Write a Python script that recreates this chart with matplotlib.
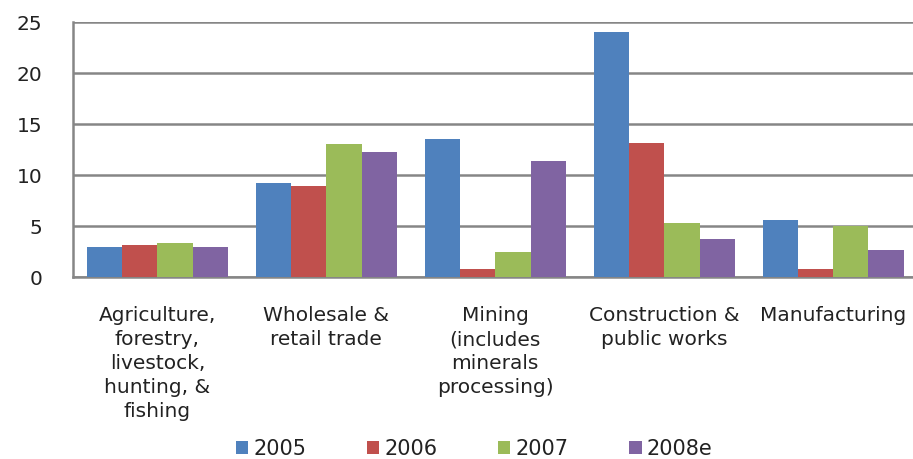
import matplotlib.pyplot as plt
import numpy as np

# data
categories = [
    "Agriculture,\nforestry,\nlivestock,\nhunting, &\nfishing",
    "Wholesale &\nretail trade",
    "Mining\n(includes\nminerals\nprocessing)",
    "Construction &\npublic works",
    "Manufacturing",
]
years = ["2005", "2006", "2007", "2008e"]
v2005 = [2.9, 9.2, 13.6, 24.1, 5.6]
v2006 = [3.15, 8.9, 0.8, 13.2, 0.8]
v2007 = [3.3, 13.1, 2.45, 5.35, 5.05]
v2008e = [2.95, 12.3, 11.4, 3.75, 2.7]
colors = ["#4F81BD", "#C0504D", "#9BBB59", "#8064A2"]

plt.rcParams["font.family"] = ["DejaVu Sans"]

fig = plt.figure(figsize=(9.13, 4.59), dpi=100)
ax = fig.add_axes([0.08, 0.3965, 0.925, 0.5545])

x = np.arange(len(categories))
width = 0.209
series = [v2005, v2006, v2007, v2008e]
for i, vals in enumerate(series):
    ax.bar(x + (i - 1.5) * width, vals, width, color=colors[i], label=years[i], zorder=3)

ax.set_ylim(0, 25)
ax.set_xlim(-0.5, 4.5)
ax.set_yticks([0, 5, 10, 15, 20, 25])
ax.yaxis.grid(True, color="#868686", linewidth=1.8, zorder=0)
ax.set_axisbelow(True)

ax.set_xticks(x)
ax.set_xticklabels(categories, fontsize=14.5, linespacing=1.33, color="#222222")
ax.tick_params(axis="x", length=0, pad=21)
ax.tick_params(axis="y", length=0, pad=22, labelsize=14.5, labelcolor="#222222")

for s in ["top", "right"]:
    ax.spines[s].set_visible(False)
for s in ["left", "bottom"]:
    ax.spines[s].set_color("#868686")
    ax.spines[s].set_linewidth(1.8)

fig.legend(loc="center", bbox_to_anchor=(474 / 913, 1 - 449 / 459), ncol=4,
           frameon=False, fontsize=15, handlelength=0.6, handleheight=0.6,
           handletextpad=0.25, columnspacing=2.9, labelcolor="#222222")

fig.savefig("out.png", dpi=100)
